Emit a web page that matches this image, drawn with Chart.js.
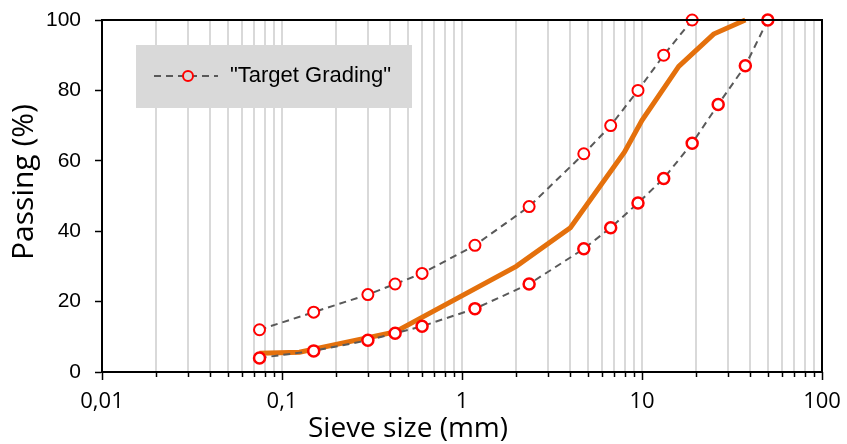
<!DOCTYPE html>
<html>
<head>
<meta charset="utf-8">
<script src="https://cdn.jsdelivr.net/npm/chart.js@4.4.1/dist/chart.umd.min.js"></script>
<style>
  html, body { margin: 0; padding: 0; background: #fff; }
  #wrap { width: 847px; height: 444px; position: relative; }
</style>
</head>
<body>
<div id="wrap"><canvas id="gradingChart"></canvas></div>
<script>
// sieve sizes (mm) and passing (%)
const upperSizes = [0.075, 0.15, 0.3, 0.425, 0.6, 1.18, 2.36, 4.75, 6.7, 9.5, 13.2, 19];
const upperPassing = [12, 17, 22, 25, 28, 36, 47, 62, 70, 80, 90, 100];

const lowerSizes = [0.075, 0.15, 0.3, 0.425, 0.6, 1.18, 2.36, 4.75, 6.7, 9.5, 13.2, 19, 26.5, 37.5, 50];
const lowerPassing = [4, 6, 9, 11, 13, 18, 25, 35, 41, 48, 55, 65, 76, 87, 100];

const mixSizes = [0.075, 0.125, 0.425, 2, 4, 8, 10, 16, 25, 37.5];
const mixPassing = [5.3, 5.6, 11.4, 30, 41, 62.5, 71.5, 86.8, 96, 100];

const decades = [0.01, 0.1, 1, 10, 100];
const decadeLabels = ["0,01", "0,1", "1", "10", "100"];
const minorSteps = [1, 2, 3, 4, 5, 6, 7, 8, 9];
const yTicks = [0, 20, 40, 60, 80, 100];

const legendText = "\"Target Grading\"";
const xTitle = "Sieve size (mm)";
const yTitle = "Passing (%)";

function points(xs, ys) {
    return xs.map(function (x, i) { return { x: x, y: ys[i] }; });
}

const xTickValues = [];
decades.forEach(function (d, i) {
    if (i === decades.length - 1) {
        xTickValues.push(d);
        return;
    }
    minorSteps.forEach(function (m) {
        xTickValues.push(Math.round(d * m * 1000) / 1000);
    });
});

function labelFor(v) {
    const idx = decades.findIndex(function (d) { return Math.abs(d - v) < 1e-9; });
    return idx >= 0 ? decadeLabels[idx] : "";
}

const targetStyle = {
    borderColor: "#595959",
    borderWidth: 2,
    borderDash: [7, 5],
    pointStyle: "circle",
    pointRadius: 5.5,
    pointBorderColor: "#ff0000",
    pointBackgroundColor: "#ffffff",
    pointHoverRadius: 5.5,
    fill: false,
    tension: 0,
    clip: false,
    order: 1,
};

const framePlugin = {
    id: "frame",
    afterDraw: function (chart) {
        const ctx = chart.ctx;
        const a = chart.chartArea;
        const xs = chart.scales.x;
        ctx.save();

        // x tick marks, long at decades
        ctx.strokeStyle = "#000";
        ctx.lineWidth = 1.5;
        xTickValues.forEach(function (v) {
            const px = Math.round(xs.getPixelForValue(v)) + 0.5;
            const len = labelFor(v) ? 8 : 5;
            ctx.beginPath();
            ctx.moveTo(px, a.bottom);
            ctx.lineTo(px, a.bottom + len);
            ctx.stroke();
        });

        // frame
        ctx.lineWidth = 2;
        ctx.strokeRect(a.left, a.top, a.right - a.left, a.bottom - a.top);

        // axis titles
        ctx.fillStyle = "#000";
        ctx.font = "28px 'Open Sans', sans-serif";
        ctx.textAlign = "center";
        ctx.textBaseline = "alphabetic";
        ctx.fillText(xTitle, 408, 437);
        ctx.save();
        ctx.translate(33, 182);
        ctx.rotate(-Math.PI / 2);
        ctx.font = "30px 'Open Sans', sans-serif";
        ctx.fillText(yTitle, 0, 0);
        ctx.restore();

        // legend box
        const bx = 136, by = 45, bw = 276, bh = 63;
        ctx.fillStyle = "#d9d9d9";
        ctx.fillRect(bx, by, bw, bh);
        const cy = by + 31;
        ctx.strokeStyle = "#595959";
        ctx.lineWidth = 2;
        ctx.setLineDash([7, 5]);
        ctx.beginPath();
        ctx.moveTo(bx + 18, cy);
        ctx.lineTo(bx + 82, cy);
        ctx.stroke();
        ctx.setLineDash([]);
        ctx.beginPath();
        ctx.arc(bx + 52, cy, 5, 0, Math.PI * 2);
        ctx.fillStyle = "#d9d9d9";
        ctx.fill();
        ctx.strokeStyle = "#ff0000";
        ctx.lineWidth = 2;
        ctx.stroke();
        ctx.fillStyle = "#000";
        ctx.font = "22px 'Liberation Sans', Arial, sans-serif";
        ctx.textBaseline = "middle";
        ctx.textAlign = "left";
        ctx.fillText(legendText, bx + 94, cy);
        ctx.restore();
    },
};

new Chart(document.getElementById("gradingChart"), {
    type: "line",
    data: {
        datasets: [
            Object.assign({}, targetStyle, {
                label: "Upper",
                data: points(upperSizes, upperPassing),
                pointBorderWidth: 2,
            }),
            Object.assign({}, targetStyle, {
                label: "Lower",
                data: points(lowerSizes, lowerPassing),
                pointBorderWidth: 2.5,
            }),
            {
                label: "Mix",
                data: points(mixSizes, mixPassing),
                borderColor: "#e4700c",
                borderWidth: 5,
                pointRadius: 0,
                fill: false,
                tension: 0,
                clip: false,
                order: 3,
            },
        ],
    },
    options: {
        responsive: true,
        maintainAspectRatio: false,
        animation: false,
        layout: {
            padding: { top: 20, right: 25, left: 0, bottom: 0 },
        },
        plugins: {
            legend: { display: false },
            tooltip: { enabled: false },
        },
        scales: {
            x: {
                type: "logarithmic",
                min: 0.01,
                max: 100,
                afterBuildTicks: function (scale) {
                    scale.ticks = xTickValues.map(function (v) {
                        return { value: v, major: labelFor(v) !== "" };
                    });
                },
                afterFit: function (scale) {
                    scale.height = 72;
                    scale.paddingLeft = 0;
                    scale.paddingRight = 0;
                },
                grid: {
                    color: "#d9d9d9",
                    lineWidth: 2,
                    drawTicks: false,
                },
                border: { color: "#000", width: 2 },
                ticks: {
                    autoSkip: false,
                    maxRotation: 0,
                    padding: 17,
                    color: "#000",
                    font: { family: "'Open Sans', sans-serif", size: 22 },
                    callback: function (value) {
                        return labelFor(value);
                    },
                },
            },
            y: {
                min: 0,
                max: 100,
                afterBuildTicks: function (scale) {
                    scale.ticks = yTicks.map(function (v) { return { value: v }; });
                },
                afterFit: function (scale) {
                    scale.width = 102;
                    scale.paddingTop = 0;
                    scale.paddingBottom = 0;
                },
                grid: {
                    drawOnChartArea: false,
                    tickLength: 7,
                    tickColor: "#000",
                    tickWidth: 1.5,
                },
                border: { color: "#000", width: 2 },
                ticks: {
                    padding: 14,
                    color: "#000",
                    font: { family: "'Liberation Sans', Arial, sans-serif", size: 21 },
                },
            },
        },
    },
    plugins: [framePlugin],
});
</script>
</body>
</html>
